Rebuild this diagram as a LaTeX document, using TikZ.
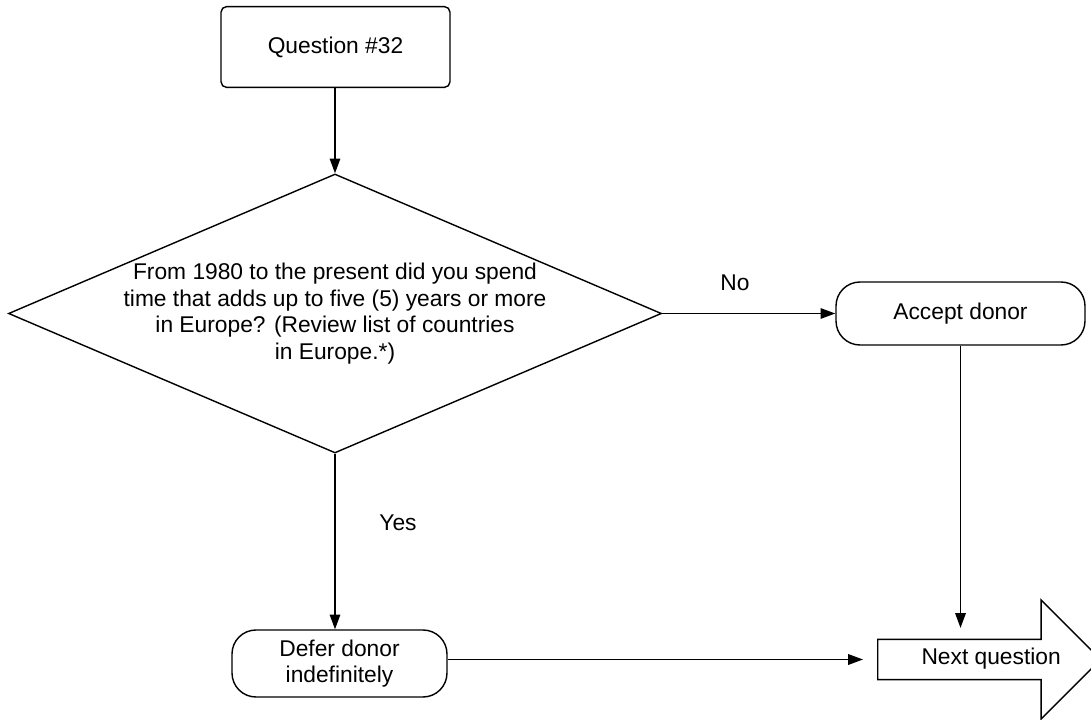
\documentclass[tikz,border=0pt]{standalone}
\usepackage{fontspec}
\setmainfont{Liberation Sans}
\usetikzlibrary{positioning,shapes.geometric,shapes.arrows,arrows.meta}
\tikzset{
  flow/.style={draw=black,line width=1pt,font=\fontsize{16.2pt}{18.9pt}\selectfont,align=center},
  startbox/.style={flow,rectangle,rounded corners=4pt,minimum width=5.725cm,minimum height=2.02cm},
  decision/.style={flow,diamond,aspect=2.34,inner xsep=-0.2cm,inner ysep=0pt,
                   minimum width=16.325cm,minimum height=6.975cm},
  terminal/.style={flow,rectangle,rounded corners=0.6cm},
  nextarrow/.style={flow,single arrow,single arrow head extend=0.9875cm,single arrow tip angle=90,
                    text height=0.42cm,text depth=0.15cm,inner ysep=0.2cm,minimum height=5.575cm},
  tag/.style={font=\fontsize{16.2pt}{18.9pt}\selectfont},
  arrow/.style={-{Triangle[length=10.5pt,width=7.5pt]},line width=1pt},
}
\begin{document}
\begin{tikzpicture}[x=1cm,y=1cm]
    \fill[white] (0,0) rectangle (27.275,17.975);
    \useasboundingbox (0,0) rectangle (27.275,17.975);
    % Question and decision
    \node[startbox] (start) at (8.3875,16.8) {Question \#32};
    \node[decision] (dec) at (8.375,10.1375)
      {From 1980 to the present did you spend\\time that adds up to five (5) years or more\\
       in Europe? (Review list of countries\\in Europe.*)};
    % Outcomes
    \node[terminal,minimum width=6.225cm,minimum height=1.575cm] (accept) at (24.0125,10.1375) {Accept donor};
    \node[terminal,minimum width=5.375cm,minimum height=1.675cm] (defer) at (8.4875,1.3875)
      {Defer donor\\indefinitely};
    \node[nextarrow,anchor=tail] (next) at (21.925,1.4875) {Next question\hspace*{-0.6cm}};
    % Connectors
    \draw[arrow] (start.south -| dec.north) -- (dec.north);
    \draw[arrow] (dec.east) -- (accept.west);
    \draw[arrow] (dec.south) -- (dec.south |- defer.north);
    \draw[arrow,shorten >=0.79cm] (accept.south) -- (accept.south |- next.west);
    \draw[arrow,shorten >=0.35cm] (next.west -| defer.east) -- (next.west);
    \node[tag] (no) at (18.375,10.9) {No};
    \node[tag] (yes) at (9.95,4.9) {Yes};
  \end{tikzpicture}
\end{document}
